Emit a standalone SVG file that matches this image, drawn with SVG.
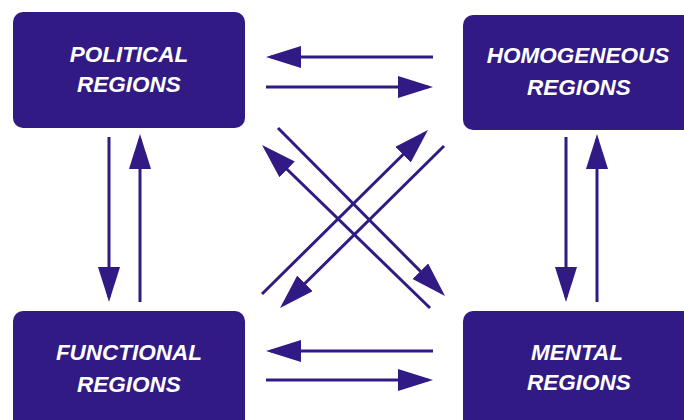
<svg xmlns="http://www.w3.org/2000/svg" width="684" height="420" viewBox="0 0 684 420">
<defs>
<style>
.box{fill:#311a84;}
.lbl{fill:#ffffff;font-family:"Liberation Sans",Arial,sans-serif;font-weight:bold;font-style:italic;font-size:22.5px;text-anchor:middle;}
.c{stroke:#311a84;stroke-width:3;fill:none;marker-end:url(#ah);}
</style>
<marker id="ah" markerUnits="userSpaceOnUse" markerWidth="36" markerHeight="22" refX="30" refY="11" orient="auto">
<path d="M0,0 L35,11 L0,22 z" fill="#311a84"/>
</marker>
</defs>
<rect width="684" height="420" fill="#ffffff"/>
<g id="political">
<rect class="box" x="13" y="12" width="232" height="116" rx="10"/>
<text class="lbl" x="129" y="62">POLITICAL</text>
<text class="lbl" x="129" y="92">REGIONS</text>
</g>
<g id="homogeneous">
<rect class="box" x="463" y="15" width="240" height="115" rx="10"/>
<text class="lbl" x="578" y="63">HOMOGENEOUS</text>
<text class="lbl" x="579" y="95">REGIONS</text>
</g>
<g id="functional">
<rect class="box" x="13" y="311" width="232" height="130" rx="10"/>
<text class="lbl" x="129" y="360">FUNCTIONAL</text>
<text class="lbl" x="129" y="392">REGIONS</text>
</g>
<g id="mental">
<rect class="box" x="463" y="311" width="240" height="130" rx="10"/>
<text class="lbl" x="577" y="360">MENTAL</text>
<text class="lbl" x="579" y="390">REGIONS</text>
</g>
<g id="connectors">
<line class="c" x1="433" y1="57" x2="271" y2="57"/>
<line class="c" x1="266" y1="87" x2="428" y2="87"/>
<line class="c" x1="433" y1="351" x2="271" y2="351"/>
<line class="c" x1="266" y1="380" x2="428" y2="380"/>
<line class="c" x1="109" y1="137" x2="109" y2="297"/>
<line class="c" x1="140" y1="302" x2="140" y2="139"/>
<line class="c" x1="566" y1="137" x2="566" y2="297"/>
<line class="c" x1="597" y1="302" x2="597" y2="139"/>
<line class="c" x1="278" y1="128" x2="441.5" y2="292.5"/>
<line class="c" x1="430" y1="308" x2="265.6" y2="148.5"/>
<line class="c" x1="262" y1="294" x2="424.4" y2="133.5"/>
<line class="c" x1="444" y1="146" x2="283.6" y2="304.5"/>
</g>
</svg>
